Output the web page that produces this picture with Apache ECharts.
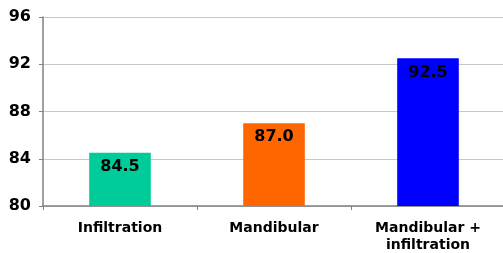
<!DOCTYPE html>
<html><head><meta charset="utf-8">
<script src="https://cdn.jsdelivr.net/npm/echarts@6/dist/echarts.min.js"></script>
<style>html,body{margin:0;padding:0;background:#fff}#c{width:503px;height:253px}</style>
</head><body><div id="c"></div>
<script>
const categories = ['Infiltration', 'Mandibular', 'Mandibular +\ninfiltration'];
const values = [84.5, 87.0, 92.5];
const colors = ['#00CC99', '#FF6600', '#0000FF'];
const yTicks = [80, 84, 88, 92, 96];

const chart = echarts.init(document.getElementById('c'), null, {renderer: 'canvas'});
chart.setOption({
  animation: false,
  grid: {left: 43, right: -2, top: 17, bottom: 47, outerBoundsMode: 'none', containLabel: false},
  xAxis: {
    type: 'category', data: categories,
    axisLine: {lineStyle: {color: '#808080', width: 1.5}},
    axisTick: {show: true, length: 4, lineStyle: {color: '#808080'}},
    axisLabel: {color: '#000', fontFamily: 'DejaVu Sans', fontWeight: 'bold', fontSize: 14, margin: 14, lineHeight: 17, interval: 0}
  },
  yAxis: {
    type: 'value', min: yTicks[0], max: yTicks[yTicks.length-1], interval: 4,
    axisLine: {show: true, lineStyle: {color: '#808080', width: 1.5}},
    axisTick: {show: true, length: 4, lineStyle: {color: '#808080'}},
    splitLine: {lineStyle: {color: '#c8c8c8'}},
    axisLabel: {color: '#000', fontFamily: 'DejaVu Sans', fontWeight: 'bold', fontSize: 16, margin: 12}
  },
  series: [{
    type: 'bar', barWidth: '40%',
    data: values.map((v, i) => ({value: v, itemStyle: {color: colors[i]}})),
    label: {show: true, position: 'insideTop', distance: 6, color: '#000', fontFamily: 'DejaVu Sans', fontWeight: 'bold', fontSize: 16,
      formatter: p => p.value.toFixed(1)}
  }]
});
</script></body></html>
